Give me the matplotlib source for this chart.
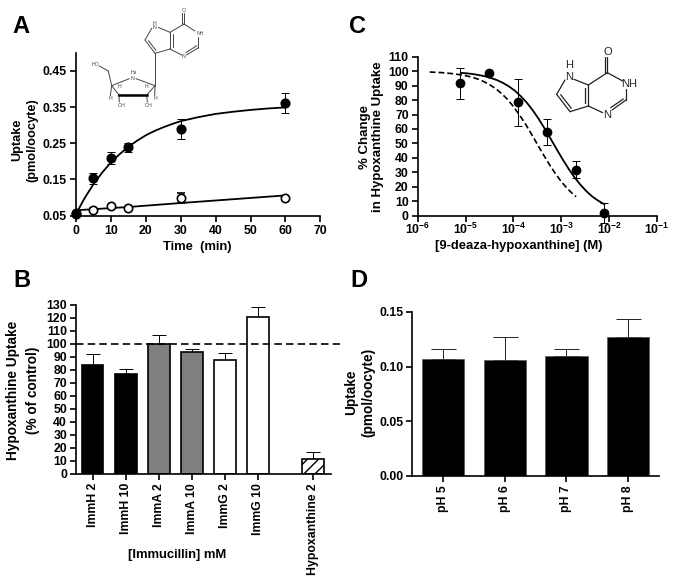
import numpy as np
import matplotlib
matplotlib.use('Agg')
import matplotlib.pyplot as plt

plt.rcParams['font.family'] = ['Liberation Sans', 'DejaVu Sans']
plt.rcParams['font.weight'] = 'bold'
plt.rcParams['axes.labelweight'] = 'bold'
plt.rcParams['mathtext.fontset'] = 'custom'
plt.rcParams['mathtext.bf'] = 'Liberation Sans:bold'
plt.rcParams['mathtext.rm'] = 'Liberation Sans:bold'

W, H = 674, 586

########################### panel A
a_time = [0, 5, 10, 15, 30, 60]
a_fill = [0.055, 0.153, 0.209, 0.239, 0.290, 0.361]
a_fill_err = [0.004, 0.016, 0.016, 0.013, 0.028, 0.028]
a_open = [0.058, 0.066, 0.077, 0.072, 0.099, 0.100]
a_open_err = [0.002, 0.004, 0.003, 0.003, 0.015, 0.004]
a_fit_t = [0, 2.5, 5, 7.5, 10, 12.5, 15, 17.5, 20, 22.5, 25, 27.5, 30, 35, 40, 45, 50, 55, 60]
a_fit_fill = [0.055, 0.099, 0.137, 0.169, 0.197, 0.220, 0.240, 0.257, 0.272, 0.284, 0.294,
              0.303, 0.311, 0.322, 0.331, 0.337, 0.342, 0.346, 0.349]
a_fit_open_t = [0, 15, 30, 60]
a_fit_open = [0.065, 0.074, 0.085, 0.106]

########################### panel B
b_labels = ['ImmH 2', 'ImmH 10', 'ImmA 2', 'ImmA 10', 'ImmG 2', 'ImmG 10', 'Hypoxanthine 2']
b_pos = [1, 2, 3, 4, 5, 6, 7.66]
b_vals = [84, 76.7, 99.5, 93.3, 87.5, 120.5, 11.8]
b_err = [8, 3.6, 7.5, 2.9, 5.5, 7.4, 5.1]
b_colors = ['black', 'black', '#7f7f7f', '#7f7f7f', 'white', 'white', 'white']

########################### panel C
c_conc = [7.7e-6, 3.1e-5, 1.25e-4, 5e-4, 2e-3, 7.8e-3]
c_vals = [91.5, 98.5, 78.4, 57.7, 31.8, 2]
c_err = [10.5, 1, 16.5, 9, 6, 7]
c_solid_log = [-5.1, -4.975, -4.85, -4.725, -4.6, -4.475, -4.35, -4.225, -4.1, -3.975,
               -3.85, -3.725, -3.6, -3.475, -3.35, -3.225, -3.1, -2.975, -2.85, -2.725,
               -2.6, -2.475, -2.35, -2.225, -2.1]
c_solid = [98.8, 98.5, 98.0, 97.3, 96.5, 95.3, 93.9, 92.0, 89.6, 86.6, 82.8, 78.4, 73.1,
           67.1, 60.4, 53.4, 46.2, 39.2, 32.6, 26.6, 21.4, 16.9, 13.2, 10.3, 7.9]
c_dash_log = [-5.75, -5.5, -5.25, -5, -4.875, -4.75, -4.625, -4.5, -4.375, -4.25, -4.125, -4,
              -3.875, -3.75, -3.625, -3.5, -3.375, -3.25, -3.125, -3, -2.875, -2.75, -2.69]
c_dash = [99.4, 99.0, 98.2, 96.9, 95.9, 94.6, 92.9, 90.7, 88.0, 84.6, 80.5, 75.5,
          69.8, 63.5, 56.6, 49.4, 42.3, 35.5, 29.2, 23.6, 18.8, 14.8, 13.1]

########################### panel D
d_labels = ['pH 5', 'pH 6', 'pH 7', 'pH 8']
d_vals = [0.1067, 0.1064, 0.1094, 0.1268]
d_err = [0.0098, 0.0206, 0.0071, 0.0165]

########################### structures (bond ends, in 3x crop pixels)
mol_a_bonds = [((552, 40), (552, 72)), ((546, 40), (546, 72)), ((552, 72), (585, 93)), ((595, 110), (595, 143)),
               ((595, 143), (560, 165)), ((590, 137), (558, 158)), ((545, 165), (510, 147)), ((510, 147), (510, 97)),
               ((518, 140), (518, 103)), ((510, 97), (552, 72)), ((510, 97), (475, 82)), ((455, 85), (435, 120)),
               ((435, 120), (465, 160)), ((445, 122), (468, 151)), ((465, 160), (510, 147)), ((465, 160), (465, 257)),
               ((465, 257), (408, 236)), ((388, 236), (335, 257)), ((335, 257), (325, 213)), ((325, 213), (298, 198)),
               ((335, 257), (357, 285)), ((440, 285), (465, 257)), ((357, 285), (358, 306)), ((440, 285), (442, 306)),
               ((335, 257), (331, 287)), ((465, 257), (464, 287))]
mol_a_wedge = [((357, 285), (440, 285))]
mol_a_text = [('O', 552, 30), ('H', 464, 70), ('N', 464, 82), ('NH', 601, 101), ('N', 552, 171), ('HO', 285, 195),
              ('N', 398, 234), ('H$_2$', 403, 217), ('H', 357, 261), ('H', 440, 261), ('H', 330, 295), ('H', 465, 295),
              ('OH', 364, 316), ('OH', 445, 316)]
mol_c_bonds = [((802, 172), (802, 218)), ((794, 172), (794, 218)), ((802, 218), (848, 243)), ((858, 266), (858, 300)),
               ((858, 300), (816, 330)), ((850, 297), (812, 323)), ((788, 338), (745, 318)), ((745, 318), (745, 255)),
               ((735, 308), (735, 263)), ((745, 255), (802, 218)), ((745, 255), (702, 238)), ((675, 240), (650, 283)),
               ((650, 283), (690, 335)), ((662, 284), (694, 325)), ((690, 335), (745, 318))]
mol_c_text = [('O', 802, 157), ('H', 688, 195), ('N', 688, 232), ('NH', 868, 252), ('N', 802, 346)]

panel_letters = [('A', 12, 33), ('B', 13, 287), ('C', 349, 33), ('D', 350, 287)]

fig = plt.figure(figsize=(W / 100, H / 100), dpi=100)
over = fig.add_axes([0, 0, 1, 1], zorder=10)
over.set_xlim(0, W)
over.set_ylim(H, 0)
over.axis('off')
over.patch.set_alpha(0)


def make_ax(left, right, top, bottom):
    ax = fig.add_axes([left / W, 1 - bottom / H, (right - left) / W, (bottom - top) / H])
    ax.spines['top'].set_visible(False)
    ax.spines['right'].set_visible(False)
    ax.spines['left'].set_linewidth(1.2)
    ax.spines['bottom'].set_linewidth(1.2)
    ax.tick_params(width=1.2, length=4.5, labelsize=8.8, pad=2)
    return ax


def labels(ax, xlab, xpos, ylab, ypos, ysize, spacing):
    if xlab:
        ax.set_xlabel(xlab, fontsize=9.4, ha='center', va='center')
        ax.xaxis.set_label_coords(xpos[0], xpos[1], transform=over.transData)
    ax.set_ylabel(ylab, fontsize=ysize, ha='center', va='center', linespacing=spacing)
    ax.yaxis.set_label_coords(ypos[0], ypos[1], transform=over.transData)


########################### A
ax = make_ax(76, 320.3, 52.7, 215.7)
ax.plot(a_fit_t, a_fit_fill, color='black', lw=1.3, clip_on=False)
ax.plot(a_fit_open_t, a_fit_open, color='black', lw=1.3, clip_on=False)
ax.errorbar(a_time, a_open, yerr=a_open_err, fmt='o', ms=6, mfc='white', mec='black', mew=1.2,
            ecolor='black', elinewidth=0.7, capsize=3, capthick=0.7, clip_on=False, zorder=3)
ax.errorbar(a_time, a_fill, yerr=a_fill_err, fmt='o', ms=6.3, color='black',
            ecolor='black', elinewidth=0.7, capsize=3, capthick=0.7, clip_on=False, zorder=4)
ax.set_xlim(0, 70)
ax.set_ylim(0.05, 0.5)
ax.set_xticks(range(0, 71, 10))
ax.set_yticks([0.05, 0.15, 0.25, 0.35, 0.45])
ax.set_yticklabels(['0.05', '0.15', '0.25', '0.35', '0.45'])
labels(ax, 'Time  (min)', (197, 247), 'Uptake\n(pmol/oocyte)', (24.5, 140), 9.2, 1.35)

########################### B
ax = make_ax(76, 330.7, 304.7, 474)
ax.bar(b_pos, b_vals, width=0.66, color=b_colors, edgecolor='black', linewidth=1.2,
       hatch=[None, None, None, None, None, None, '///'], zorder=2)
ax.errorbar(b_pos, b_vals, yerr=[np.zeros(len(b_err)), b_err], fmt='none', ecolor='black',
            elinewidth=0.7, capsize=4.8, capthick=0.7, zorder=1)
ax.plot([0.5, 8.46], [100, 100], color='black', lw=1.2, ls=(0, (4.5, 2.5)), clip_on=False, zorder=3)
ax.set_xlim(0.5, 8.19)
ax.set_ylim(0, 130)
ax.set_xticks(b_pos)
ax.set_xticklabels(b_labels, rotation=90)
ax.set_yticks(range(0, 131, 10))
labels(ax, '[Immucillin] mM', (176.7, 555), 'Hypoxanthine Uptake\n(% of control)', (23, 390), 9.8, 1.5)

########################### C
ax = make_ax(417.7, 657, 56.7, 215.7)
ax.set_xscale('log')
ax.plot(10.0 ** np.array(c_solid_log), c_solid, color='black', lw=1.3)
ax.plot(10.0 ** np.array(c_dash_log), c_dash, color='black', lw=1.2, ls=(0, (3.5, 1.8)))
ax.errorbar(c_conc, c_vals, yerr=c_err, fmt='o', ms=6, color='black', ecolor='black',
            elinewidth=0.7, capsize=3, capthick=0.7, clip_on=False, zorder=4)
ax.set_xlim(1e-6, 1e-1)
ax.set_ylim(0, 110)
ax.set_xticks([1e-6, 1e-5, 1e-4, 1e-3, 1e-2, 1e-1])
ax.set_xticklabels([r'$\mathbf{10^{-%d}}$' % i for i in [6, 5, 4, 3, 2, 1]])
ax.tick_params(axis='x', pad=0)
ax.minorticks_off()
ax.set_yticks(range(0, 111, 10))
labels(ax, '[9-deaza-hypoxanthine] (M)', (519, 246), '% Change\nin Hypoxanthine Uptake', (371.6, 137), 9.5, 1.15)

########################### D
ax = make_ax(412.3, 659.3, 312, 476)
pos = np.arange(1, len(d_vals) + 1)
ax.bar(pos, d_vals, width=0.686, color='black', edgecolor='#555555', linewidth=0.5, zorder=2)
ax.errorbar(pos, d_vals, yerr=[np.zeros(len(d_err)), d_err], fmt='none', ecolor='#222222',
            elinewidth=0.7, capsize=9, capthick=0.7, zorder=1)
ax.set_xlim(0.502, 4.507)
ax.set_ylim(0, 0.15)
ax.set_xticks(pos)
ax.set_xticklabels(d_labels, rotation=90)
ax.set_yticks([0, 0.05, 0.10, 0.15])
ax.set_yticklabels(['0.00', '0.05', '0.10', '0.15'])
labels(ax, None, None, 'Uptake\n(pmol/oocyte)', (359.5, 392), 9.8, 1.33)


########################### overlay: letters and structures
def draw_mol(bonds, texts, xoff, color, lw, fs, weight):
    for (x1, y1), (x2, y2) in bonds:
        over.plot([x1 / 3 + xoff, x2 / 3 + xoff], [y1 / 3, y2 / 3], color=color, lw=lw, solid_capstyle='round')
    for s, x, y in texts:
        over.text(x / 3 + xoff, y / 3, s, color=color, fontsize=fs, fontweight=weight, ha='center', va='center')


draw_mol(mol_a_bonds, mol_a_text, 0, '#444444', 0.7, 3.8, 'normal')
for (x1, y1), (x2, y2) in mol_a_wedge:
    over.plot([x1 / 3, x2 / 3], [y1 / 3, y2 / 3], color='black', lw=1.8)
draw_mol(mol_c_bonds, mol_c_text, 340, '#222222', 0.9, 8, 'normal')

for s, x, y in panel_letters:
    over.text(x, y, s, fontsize=17, fontweight='bold', ha='left', va='baseline', color='black')

plt.savefig('out.png', dpi=100)
